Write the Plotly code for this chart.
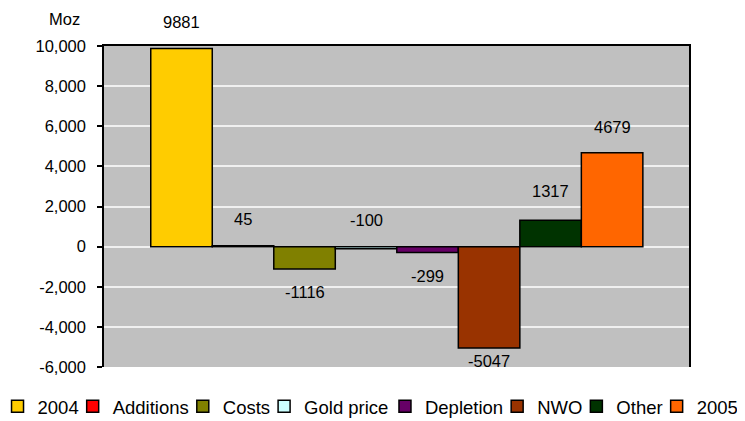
import plotly.graph_objects as go

categories = ["2004", "Additions", "Costs", "Gold price", "Depletion", "NWO", "Other", "2005"]
values = [9881, 45, -1116, -100, -299, -5047, 1317, 4679]
colors = ["#FFCC00", "#FF0000", "#808000", "#CCFFFF", "#660066", "#993300", "#003300", "#FF6600"]
tick_vals = [-6000, -4000, -2000, 0, 2000, 4000, 6000, 8000, 10000]
tick_text = ["-6,000", "-4,000", "-2,000", "0", "2,000", "4,000", "6,000", "8,000", "10,000"]

FONT = "Liberation Sans, Arial, sans-serif"

fig = go.Figure()
for i, (cat, val, col) in enumerate(zip(categories, values, colors)):
    fig.add_trace(go.Bar(
        x=[i], y=[val], name=cat, width=1,
        marker=dict(color=col, line=dict(color="black", width=1.5)),
        hoverinfo="name+y",
        legend="legend" if i < 4 else "legend2",
    ))

# label placement (pixels offset from bar end)
label_shift = [26, 27, -23, 27, -23, -13, 29, 26]
for i, (val, sh) in enumerate(zip(values, label_shift)):
    base = val if not (val < 0 and sh > 0) else 0
    fig.add_annotation(x=i, y=base, text=str(val), showarrow=False,
                       yshift=sh, font=dict(size=16.5, color="black", family=FONT))

fig.add_annotation(xref="paper", yref="paper", x=-0.068, y=1.0, yshift=27,
                   xanchor="center", yanchor="middle",
                   text="Moz", showarrow=False,
                   font=dict(size=16.5, color="black", family=FONT))

leg_common = dict(orientation="h", y=-0.124, yanchor="middle", xanchor="left",
                  font=dict(size=18.5, family=FONT), itemwidth=30, indentation=-11,
                  traceorder="normal", bgcolor="rgba(0,0,0,0)")

# the page body adds an 8px offset; the figure is sized to fill the rest
fig.update_layout(
    width=737, height=413,
    margin=dict(l=96, r=56, t=38, b=54, autoexpand=False),
    paper_bgcolor="white", plot_bgcolor="#C0C0C0",
    barmode="overlay",
    font=dict(family=FONT, color="black"),
    showlegend=True,
    legend=dict(x=-0.1632, **leg_common),
    legend2=dict(x=0.4991, **leg_common),
    xaxis=dict(range=[-1.26, 8.25], showticklabels=False, ticks="", showgrid=False,
               zeroline=False, showline=True, linecolor="black", linewidth=1.5,
               side="top", fixedrange=True),
    yaxis=dict(range=[-6000, 10000], tickvals=tick_vals, ticktext=tick_text,
               ticks="outside", ticklen=5, tickcolor="black", tickwidth=1.5,
               showline=True, linecolor="black", linewidth=1.5, mirror=True,
               showgrid=True, gridcolor="#F0F0F0", gridwidth=1.5, zeroline=False,
               tickfont=dict(size=16.5, family=FONT), ticklabelstandoff=8),
)

fig.write_html("out.html")
